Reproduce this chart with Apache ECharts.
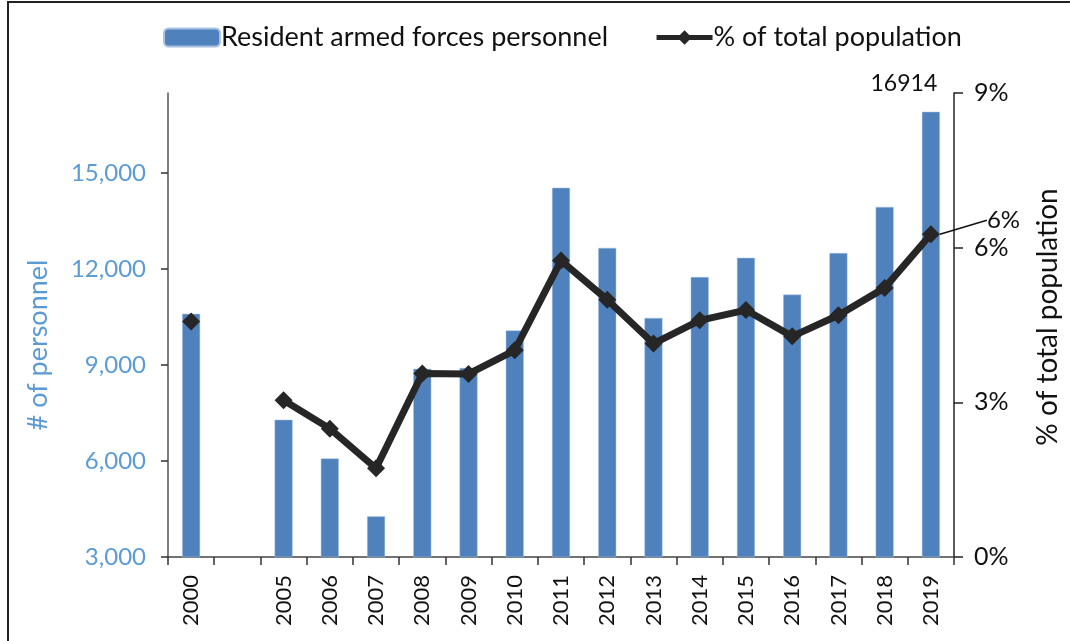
<!DOCTYPE html>
<html>
<head>
<meta charset="utf-8">
<script src="https://cdn.jsdelivr.net/npm/echarts@6/dist/echarts.min.js"></script>
<style>
  html, body { margin: 0; padding: 0; background: #fff; }
  #frame {
    position: absolute; left: 7px; top: 1px; width: 1063px; height: 640px;
    border-top: 2px solid #222; border-left: 2px solid #222;
  }
  #chart { position: absolute; left: 0; top: 0; width: 1070px; height: 641px; }
</style>
</head>
<body>
<div id="frame"></div>
<div id="chart"></div>
<script>
// years on the x axis, one empty slot between 2000 and 2005
const years = ['2000', '', '2005', '2006', '2007', '2008', '2009', '2010', '2011',
  '2012', '2013', '2014', '2015', '2016', '2017', '2018', '2019']
// resident armed forces personnel
const personnel = [10600, null, 7290, 6080, 4270, 8880, 8910, 10080, 14540,
  12660, 10470, 11750, 12350, 11200, 12500, 13940, 16914]
// % of total population
const pctPopulation = [4.57, null, 3.04, 2.49, 1.72, 3.56, 3.55, 4.01, 5.75,
  4.99, 4.14, 4.59, 4.79, 4.28, 4.69, 5.22, 6.26]
const leftTicks = [3000, 6000, 9000, 12000, 15000]
const rightTicks = [0, 3, 6, 9]

const FONT = 'Lato'
const BLUE = '#4f81bd'
const AXIS_BLUE = '#5b9bd5'
const DARK = '#262626'

const chartIns = echarts.init(document.getElementById('chart'))

const lastIdx = personnel.length - 1
const barData = personnel.map((v, i) => i === lastIdx ? {
  value: v,
  label: {
    show: true, position: 'top', offset: [-27, -12],
    fontFamily: FONT, fontSize: 23, color: '#111'
  }
} : v)
const lineData = pctPopulation.map((v, i) => i === lastIdx ? {
  value: v,
  label: {
    show: true, position: 'right', distance: 5,
    formatter: p => Math.round(p.value) + '%',
    fontFamily: FONT, fontSize: 24, color: '#111'
  },
  labelLine: { show: true, lineStyle: { color: '#111', width: 1.5 } }
} : v)

const option = {
  backgroundColor: 'transparent',
  animation: false,
  legend: {
    left: 158,
    top: 19,
    itemWidth: 56,
    itemHeight: 18,
    itemGap: 46,
    lineStyle: { width: 5 },
    textStyle: { fontFamily: FONT, fontSize: 27, color: '#111', padding: [0, 0, 0, -4] },
    data: ['Resident armed forces personnel', '% of total population']
  },
  grid: { left: 168, right: 115, top: 93, bottom: 84 },
  xAxis: {
    type: 'category',
    data: years,
    axisLine: { lineStyle: { color: '#444', width: 1.5 } },
    axisTick: { show: true, length: 8, lineStyle: { color: '#333', width: 1.5 } },
    axisLabel: {
      rotate: 90, interval: 0, margin: 18,
      fontFamily: FONT, fontSize: 22, color: '#111'
    }
  },
  yAxis: [
    {
      type: 'value',
      min: 3000,
      max: 17500,
      interval: 3000,
      name: '# of personnel',
      nameLocation: 'middle',
      nameGap: 116,
      nameTextStyle: { fontFamily: FONT, fontSize: 27, color: AXIS_BLUE, padding: [0, 40, 0, 0] },
      splitLine: { show: false },
      axisLine: { show: true, lineStyle: { color: '#555', width: 1.5 } },
      axisTick: { show: true, length: 7, customValues: leftTicks, lineStyle: { color: '#333', width: 1.5 } },
      axisLabel: {
        customValues: leftTicks,
        margin: 22,
        fontFamily: FONT, fontSize: 24, color: AXIS_BLUE,
        formatter: v => v.toLocaleString('en-US')
      }
    },
    {
      type: 'value',
      min: 0,
      max: 9,
      interval: 3,
      position: 'right',
      name: '% of total population',
      nameLocation: 'middle',
      nameGap: 80,
      nameTextStyle: { fontFamily: FONT, fontSize: 28, color: '#111', padding: [0, 0, 0, 16] },
      splitLine: { show: false },
      axisLine: { show: true, lineStyle: { color: '#222', width: 1.5 } },
      axisTick: { show: true, length: 9, lineStyle: { color: '#222', width: 1.5 } },
      axisLabel: {
        customValues: rightTicks,
        margin: 20,
        fontFamily: FONT, fontSize: 25, color: '#111',
        formatter: '{value}%'
      }
    }
  ],
  series: [
    {
      name: 'Resident armed forces personnel',
      type: 'bar',
      data: barData,
      barWidth: 18,
      itemStyle: { color: BLUE, borderColor: '#a9c2e2', borderWidth: 0.5 }
    },
    {
      name: '% of total population',
      type: 'line',
      yAxisIndex: 1,
      data: lineData,
      connectNulls: false,
      symbol: 'diamond',
      symbolSize: 18,
      lineStyle: { color: DARK, width: 7 },
      itemStyle: { color: DARK },
      labelLayout: { dx: 42, dy: -14 }
    }
  ]
}
chartIns.setOption(option)
</script>
</body>
</html>
